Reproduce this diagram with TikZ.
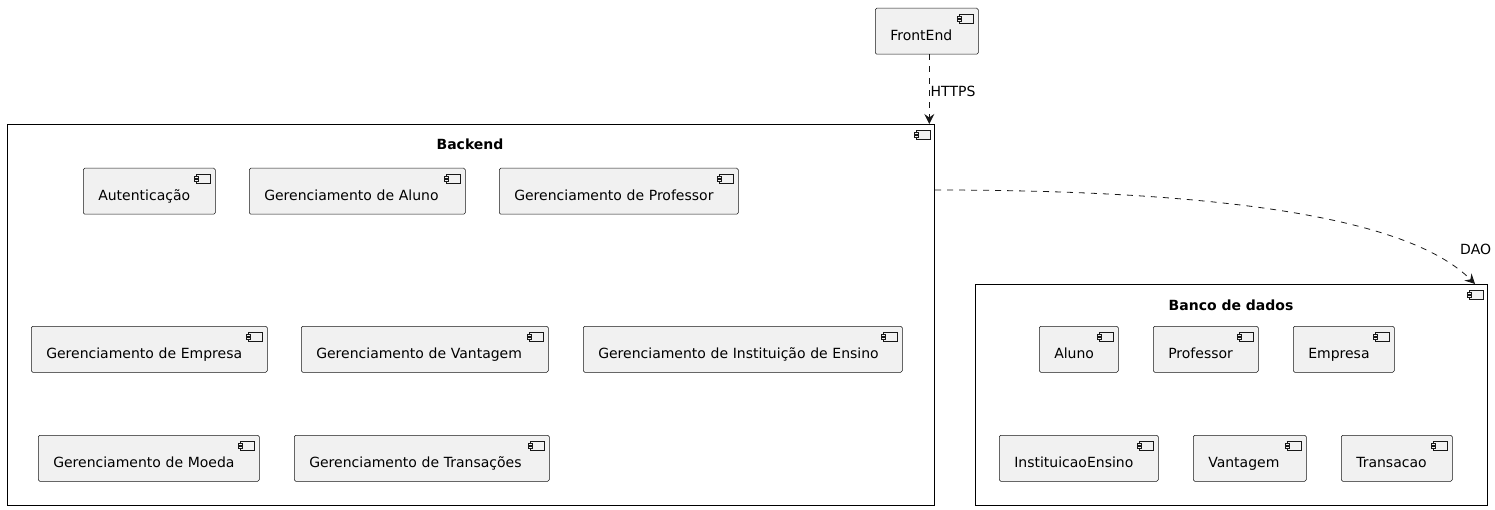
\documentclass[tikz,border=0pt]{standalone}
\usepackage{fontspec}
\setmainfont{DejaVu Sans}
\usepackage{tikz}
\usetikzlibrary{arrows.meta, positioning}

\definecolor{compfill}{HTML}{F1F1F1}
\definecolor{compline}{HTML}{181818}

\tikzset{
  comp/.style={rectangle, draw=compline, line width=0.5pt, fill=compfill, rounded corners=1.5pt,
    anchor=north west, minimum height=46pt, inner xsep=15pt, align=left,
    text height=19pt, text depth=0pt, font=\fontsize{14}{17}\selectfont},
  box/.style={rectangle, draw=black, line width=1pt, fill=white, anchor=north west, inner sep=0pt},
  boxtitle/.style={font=\fontsize{14}{17}\selectfont\bfseries, anchor=base},
  dep/.style={draw=compline, line width=0.8pt, dash pattern=on 6pt off 6pt, -{Stealth[length=10pt, width=10pt, inset=3.5pt]}},
  deplabel/.style={font=\fontsize{14}{17}\selectfont, inner sep=1pt},
  compicon/.pic={
    \draw[fill=compfill, line width=0.5pt, draw=compline] (-19,6) rectangle (-5,15);
    \draw[fill=compfill, line width=0.5pt, draw=compline] (-21,8) rectangle (-17,10);
    \draw[fill=compfill, line width=0.5pt, draw=compline] (-21,11) rectangle (-17,13);
  }
}

\begin{document}
\begin{tikzpicture}[x=1pt, y=-1pt]
  \useasboundingbox (0,0) rectangle (1495,510);

  % containers
  \node[box, minimum width=927pt, minimum height=381pt] (backend) at (7,124) {};
  \node[boxtitle] at (470,150) {Backend};
  \pic at (backend.north east) {compicon};
  \node[box, minimum width=512pt, minimum height=221pt] (banco) at (975,284) {};
  \node[boxtitle] at (1231,310) {Banco de dados};
  \pic at (banco.north east) {compicon};

  % frontend
  \node[comp, text width=73pt] (front) at (875,8) {FrontEnd};
  \pic at (front.north east) {compicon};

  % backend components
  \node[comp, text width=102pt] (aut) at (83,168) {Autenticação};
  \node[comp, text width=186pt] (galu) at (249,168) {Gerenciamento de Aluno};
  \node[comp, text width=209pt] (gprof) at (499,168) {Gerenciamento de Professor};
  \node[comp, text width=206pt] (gemp) at (31,326) {Gerenciamento de Empresa};
  \node[comp, text width=217pt] (gvan) at (301,326) {Gerenciamento de Vantagem};
  \node[comp, text width=289pt] (ginst) at (583,326) {Gerenciamento de Instituição de Ensino};
  \node[comp, text width=191pt] (gmoe) at (38,435) {Gerenciamento de Moeda};
  \node[comp, text width=225pt] (gtra) at (294,435) {Gerenciamento de Transações};
  \foreach \n in {aut, galu, gprof, gemp, gvan, ginst, gmoe, gtra}
    \pic at (\n.north east) {compicon};

  % database components
  \node[comp, text width=49pt] (aluno) at (1039,326) {Aluno};
  \node[comp, text width=75pt] (prof) at (1153,326) {Professor};
  \node[comp, text width=71pt] (empresa) at (1293,326) {Empresa};
  \node[comp, text width=129pt] (inst) at (999,435) {InstituicaoEnsino};
  \node[comp, text width=83pt] (vant) at (1193,435) {Vantagem};
  \node[comp, text width=81pt] (trans) at (1341,435) {Transacao};
  \foreach \n in {aluno, prof, empresa, inst, vant, trans}
    \pic at (\n.north east) {compicon};

  % dependencies
  \coordinate (fout) at ([xshift=2.5pt]front.south);
  \draw[dep] (fout) -- (fout |- backend.north) node[deplabel, midway, right, yshift=-2pt] {HTTPS};
  \coordinate (bout) at ([yshift=-66pt]backend.north east);
  \coordinate (din) at ([xshift=-13pt]banco.north east);
  \draw[dep] (bout) .. controls +(380,0) and +(-45,-45) .. (din);
  \node[deplabel, anchor=base west] (dao) at (1459,255) {DAO};
\end{tikzpicture}
\end{document}
